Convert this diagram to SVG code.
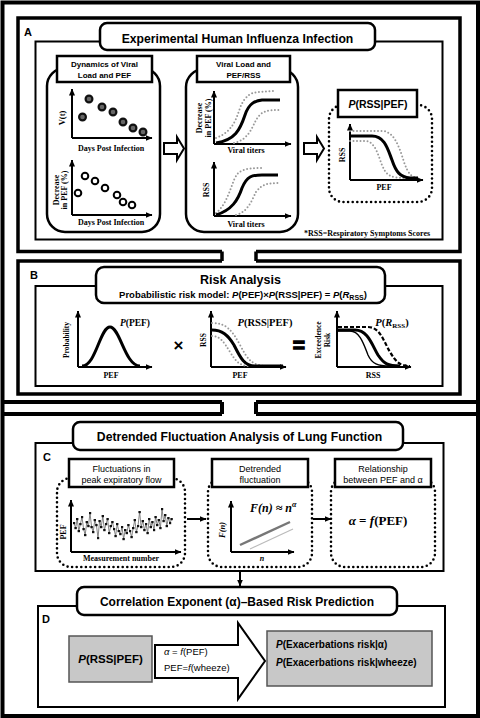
<svg xmlns="http://www.w3.org/2000/svg" width="480" height="718" viewBox="0 0 480 718">
<defs>
<marker id="ah" markerWidth="7" markerHeight="6" refX="6.5" refY="3" orient="auto" markerUnits="userSpaceOnUse"><path d="M0,0 L7,3 L0,6 z" fill="#000"/></marker>
<marker id="pt" markerWidth="3" markerHeight="3" refX="1.5" refY="1.5" markerUnits="userSpaceOnUse"><rect x="0.3" y="0.3" width="2.4" height="2.4" fill="#111"/></marker>
</defs>
<style>
.fr{fill:none;stroke:#000;stroke-width:4}
.sf{fill:none;stroke:#000;stroke-width:3.5}
.ib{fill:#fff;stroke:#000;stroke-width:2}
.pill{fill:#fff;stroke:#000;stroke-width:2.5}
.lb{fill:#fff;stroke:#000;stroke-width:2.5}
.pn{fill:#fff;stroke:#000;stroke-width:2.5}
.dp{fill:#fff;stroke:#000;stroke-width:2.6;stroke-dasharray:0 4.6;stroke-linecap:round}
.ax{fill:none;stroke:#000;stroke-width:2;marker-end:url(#ah)}
.cb{fill:none;stroke:#000;stroke-width:3}
.cg{fill:none;stroke:#999;stroke-width:2;stroke-dasharray:0 3.5;stroke-linecap:round}
.cd{fill:none;stroke:#000;stroke-width:2.2;stroke-dasharray:4 2}
.dot{fill:#666;stroke:#111;stroke-width:2.2}
.odot{fill:#fff;stroke:#000;stroke-width:2}
.ha{fill:#fff;stroke:#000;stroke-width:2}
.gb{fill:#c8c8c8;stroke:#555;stroke-width:1.5}
.con{fill:none;stroke:#000;stroke-width:2}
.t{font-family:"Liberation Sans",Arial,sans-serif;font-weight:bold;fill:#000}
.n{font-family:"Liberation Sans",Arial,sans-serif;font-weight:normal;fill:#000}
.s{font-family:"Liberation Serif","Times New Roman",serif;font-weight:bold;fill:#000}
.c{text-anchor:middle}
.i{font-style:italic}
</style>

<g id="frames">
<rect class="fr" x="2.5" y="2.5" width="475.5" height="713.5"/>
<path class="fr" d="M222,402 H2 M256,402 H478 M222,414 H2 M256,414 H478 M222,402 V414 M256,402 V414"/>
<path class="sf" d="M222,251.5 H18 V18 H460 V251.5 H256 M222,251.5 V261 M256,251.5 V261 M222,261 H18 V394 H460 V261 H256"/>
</g>

<g id="sectionA">
<rect class="ib" x="35.5" y="41.5" width="407" height="198"/>
<rect class="pill" x="100" y="23" width="275" height="27" rx="7"/>
<text class="t c" x="237.5" y="42.5" font-size="12.2">Experimental Human Influenza Infection</text>
<text class="t" x="24" y="36" font-size="11">A</text>
</g>

<g id="panelA1">
<rect class="pn" x="47" y="68" width="113" height="164" rx="18"/>
<rect class="lb" x="57" y="56" width="95" height="26"/>
<text class="t c" x="104.5" y="67" font-size="8">Dynamics of Viral</text>
<text class="t c" x="104.5" y="77.5" font-size="8">Load and PEF</text>
<path class="ax" d="M72,138 V89"/>
<path class="ax" d="M72,138 H152"/>
<text class="s c" transform="translate(64.5,118) rotate(-90)" font-size="8.5">V(t)</text>
<circle class="dot" cx="82.5" cy="117" r="3.4"/>
<circle class="dot" cx="89" cy="99" r="3.4"/>
<circle class="dot" cx="102" cy="107" r="3.4"/>
<circle class="dot" cx="113" cy="112" r="3.4"/>
<circle class="dot" cx="123" cy="122" r="3.4"/>
<circle class="dot" cx="133" cy="128" r="3.4"/>
<circle class="dot" cx="143" cy="132" r="3.4"/>
<text class="s c" x="111" y="151" font-size="8">Days Post Infection</text>
<path class="ax" d="M72,215 V160"/>
<path class="ax" d="M72,215 H152"/>
<text class="s c" transform="translate(58.5,190) rotate(-90)" font-size="8">Decrease</text>
<text class="s c" transform="translate(67,190) rotate(-90)" font-size="8">in PEF (%)</text>
<circle class="odot" cx="78" cy="193" r="3.3"/>
<circle class="odot" cx="85" cy="176" r="3.3"/>
<circle class="odot" cx="95" cy="181" r="3.3"/>
<circle class="odot" cx="105" cy="188" r="3.3"/>
<circle class="odot" cx="117" cy="195" r="3.3"/>
<circle class="odot" cx="123" cy="202" r="3.3"/>
<circle class="odot" cx="132" cy="205" r="3.3"/>
<text class="s c" x="111" y="225" font-size="8">Days Post Infection</text>
</g>

<g id="panelA2">
<rect class="pn" x="186" y="69" width="112" height="163" rx="18"/>
<rect class="lb" x="197" y="56" width="93" height="26"/>
<text class="t c" x="243.5" y="67" font-size="8">Viral Load and</text>
<text class="t c" x="243.5" y="77.5" font-size="8">PEF/RSS</text>
<path class="ax" d="M214,144 V91"/>
<path class="ax" d="M214,144 H291"/>
<text class="s c" transform="translate(202,118) rotate(-90)" font-size="8">Decrease</text>
<text class="s c" transform="translate(210.5,118) rotate(-90)" font-size="8">in PEF (%)</text>
<path class="cg" d="M216,138 C232,132 236,120 240,108 C245,95 252,92 260,92 L274,91"/>
<path class="cg" d="M234,143 C248,140 252,128 256,120 C262,110 268,110 282,110"/>
<path class="cb" d="M216,143 C235,140 240,130 245,115 C249,103 255,101 262,100 L280,100"/>
<text class="s c" x="246" y="153" font-size="8">Viral titers</text>
<path class="ax" d="M214,216 V162"/>
<path class="ax" d="M214,216 H291"/>
<text class="s c" transform="translate(208.5,190) rotate(-90)" font-size="8">RSS</text>
<path class="cg" d="M216,213 C226,205 230,190 234,180 C238,170 244,168 262,168"/>
<path class="cg" d="M236,215 C248,212 252,200 256,192 C262,184 268,183 280,183"/>
<path class="cb" d="M216,215 C232,210 238,200 242,188 C247,176 252,175 262,175 L278,175"/>
<text class="s c" x="246" y="227" font-size="8">Viral titers</text>
</g>

<g id="panelA3">
<rect class="dp" x="329" y="105" width="103" height="97" rx="14"/>
<rect class="lb" x="338" y="90" width="79" height="27"/>
<text class="t c" x="378" y="108" font-size="10.5"><tspan class="i">P</tspan>(RSS|PEF)</text>
<path class="ax" d="M350,180 V124"/>
<path class="ax" d="M350,180 H423"/>
<text class="s c" transform="translate(345,155) rotate(-90)" font-size="8">RSS</text>
<path class="cg" d="M350,131 H382 C395,131 400,150 404,162 C408,174 412,178 420,178"/>
<path class="cg" d="M350,141 H365 C375,141 378,155 382,165 C386,175 390,178 405,178"/>
<path class="cb" d="M350,136 H372 C385,136 388,150 392,160 C396,172 400,177 410,178 H418"/>
<text class="s c" x="384" y="190" font-size="8">PEF</text>
<text class="s" x="304" y="236" font-size="8">*RSS=Respiratory Symptoms Scores</text>
</g>

<g id="sectionB">
<rect class="ib" x="35.5" y="286" width="407" height="100"/>
<rect class="pill" x="96" y="267" width="289" height="36" rx="8"/>
<text class="t c" x="240.5" y="284" font-size="12.5">Risk Analysis</text>
<text class="t c" x="243" y="298" font-size="9.5">Probabilistic risk model: <tspan class="i">P</tspan>(PEF)×<tspan class="i">P</tspan>(RSS|PEF) = <tspan class="i">P</tspan>(<tspan class="i">R</tspan><tspan font-size="7" dy="2">RSS</tspan><tspan dy="-2">)</tspan></text>
<text class="t" x="30" y="279" font-size="11">B</text>
</g>

<g id="plotB1">
<path class="ax" d="M78,367 V311"/>
<path class="ax" d="M78,367 H152"/>
<text class="s c" transform="translate(69,340) rotate(-90)" font-size="7.5">Probability</text>
<path class="cb" d="M82,366 C96,366 100,327 110,327 C120,327 125,366 140,366"/>
<text class="s c" x="135" y="326" font-size="9.5"><tspan class="i">P</tspan>(PEF)</text>
<text class="s c" x="111" y="378" font-size="8">PEF</text>
<text class="t c" x="178.5" y="351" font-size="17">×</text>
</g>

<g id="plotB2">
<path class="ax" d="M211,367 V311"/>
<path class="ax" d="M211,367 H286"/>
<text class="s c" transform="translate(206,340) rotate(-90)" font-size="7.5">RSS</text>
<path class="cg" d="M212,323 C226,323 232,330 240,345 C248,360 252,366 268,366"/>
<path class="cg" d="M212,336 C220,336 224,342 230,352 C236,362 240,366 250,366"/>
<path class="cb" d="M212,330 C222,330 228,335 234,345 C240,357 244,366 255,366 H283"/>
<text class="s c" x="265" y="326" font-size="10.5"><tspan class="i">P</tspan>(RSS|PEF)</text>
<text class="s c" x="240" y="378" font-size="8">PEF</text>
<text class="t c" x="299" y="352" font-size="21" stroke="#000" stroke-width="1.3">=</text>
</g>

<g id="plotB3">
<path class="ax" d="M337,367 V311"/>
<path class="ax" d="M337,367 H411"/>
<text class="s c" transform="translate(321,340) rotate(-90)" font-size="7.5">Exceedence</text>
<text class="s c" transform="translate(330,340) rotate(-90)" font-size="7.5">Risk</text>
<path class="cd" d="M338,327 H368 C380,327 384,342 390,352 C396,362 400,366 410,366"/>
<path fill="none" stroke="#000" stroke-width="1.4" d="M338,331 H350 C360,331 364,345 368,355 C372,364 378,366 390,366"/>
<path class="cb" d="M338,330 H355 C368,330 372,345 378,355 C384,364 388,366 400,366"/>
<text class="s c" x="392" y="326" font-size="10.5"><tspan class="i">P</tspan>(<tspan class="i">R</tspan><tspan font-size="7" dy="2">RSS</tspan><tspan dy="-2">)</tspan></text>
<text class="s c" x="373" y="378" font-size="8">RSS</text>
</g>

<g id="sectionC">
<rect class="ib" x="35.5" y="443" width="408" height="128"/>
<rect class="pill" x="73" y="422" width="330" height="28" rx="7"/>
<text class="t c" x="239.5" y="441" font-size="12.2">Detrended Fluctuation Analysis of Lung Function</text>
<text class="t" x="43" y="461" font-size="11">C</text>
</g>

<g id="panelC1">
<rect class="dp" x="57" y="478" width="128" height="89" rx="14"/>
<rect class="lb" x="69" y="459" width="105" height="28"/>
<text class="n c" x="121.5" y="472" font-size="9">Fluctuations in</text>
<text class="n c" x="121.5" y="482.5" font-size="9">peak expiratory flow</text>
<path class="ax" d="M71,552 V500"/>
<path class="ax" d="M71,552 H181"/>
<text class="s c" transform="translate(65.5,532) rotate(-90)" font-size="8">PEF</text>
<polyline fill="none" stroke="#777" stroke-width="0.9" marker-start="url(#pt)" marker-mid="url(#pt)" marker-end="url(#pt)" points="74,523 75.6,528 77.2,519 78.8,531 80.4,524 82,517 83.6,529 85.2,535 86.8,522 88.4,526 90,513 91.6,527 93.2,532 94.8,520 96.4,525 98,538 99.6,521 101.2,527 102.8,516 104.4,530 106,524 107.6,519 109.2,533 110.8,526 112.4,522 114,529 115.6,536 117.2,524 118.8,531 120.4,534 122,527 123.6,539 125.2,530 126.8,533 128.4,525 130,531 131.6,537 133.2,528 134.8,520 136.4,532 138,526 139.6,512 141.2,527 142.8,521 144.4,530 146,524 147.6,533 149.2,519 150.8,527 152.4,522 154,530 155.6,517 157.2,525 158.8,520 160.4,528 162,509 163.6,521 165.2,515 166.8,526 168.4,518 170,523 171.6,519"/>
<text class="s c" x="121" y="561" font-size="8">Measurement number</text>
</g>

<g id="panelC2">
<rect class="dp" x="208" y="478" width="104" height="89" rx="14"/>
<rect class="lb" x="212" y="459" width="96" height="28"/>
<text class="n c" x="260" y="472" font-size="9">Detrended</text>
<text class="n c" x="260" y="482.5" font-size="9">fluctuation</text>
<path class="ax" d="M231,552 V501"/>
<path class="ax" d="M231,552 H294"/>
<text class="s c i" transform="translate(225,530) rotate(-90)" font-size="8.5">F(n)</text>
<line x1="240" y1="545" x2="290" y2="522" stroke="#777" stroke-width="2.4"/>
<line x1="250" y1="549" x2="293" y2="529" stroke="#bbb" stroke-width="1.2"/>
<text class="s c i" x="262" y="561" font-size="8">n</text>
<text class="s i" x="250" y="512" font-size="12">F(n) ≈ n<tspan font-size="8" dy="-5">α</tspan></text>
</g>

<g id="panelC3">
<rect class="dp" x="331" y="478" width="104" height="89" rx="14"/>
<rect class="lb" x="335" y="459" width="96" height="28"/>
<text class="n c" x="383" y="472" font-size="9">Relationship</text>
<text class="n c" x="383" y="482.5" font-size="9">between PEF and α</text>
<text class="s c" x="378" y="525" font-size="13"><tspan class="i">α</tspan> = <tspan class="i">f</tspan>(PEF)</text>
</g>

<g id="sectionD">
<rect class="ib" x="38" y="606" width="407" height="101"/>
<rect class="pill" x="77" y="587" width="320" height="28" rx="7"/>
<text class="t c" x="237" y="606" font-size="12">Correlation Exponent (α)–Based Risk Prediction</text>
<text class="t" x="42" y="623" font-size="11">D</text>
</g>

<g id="boxD1">
<rect class="gb" x="69" y="636" width="83" height="46"/>
<text class="t c" x="110.5" y="663" font-size="11.5"><tspan class="i">P</tspan>(RSS|PEF)</text>
</g>

<g id="arrowD">
<polygon class="ha" points="155,645 238,645 238,623 265,661 238,699 238,678 155,678"/>
<text class="n" x="164" y="655" font-size="9.5"><tspan class="i">α</tspan> = <tspan class="i">f</tspan>(PEF)</text>
<text class="n" x="164" y="671" font-size="9.5">PEF=<tspan class="i">f</tspan>(wheeze)</text>
</g>

<g id="boxD2">
<rect class="gb" x="267" y="631" width="165" height="55"/>
<text class="t" x="276" y="648" font-size="10"><tspan class="i">P</tspan>(Exacerbations risk|α)</text>
<text class="t" x="276" y="666" font-size="10"><tspan class="i">P</tspan>(Exacerbations risk|wheeze)</text>
</g>

<g id="connectors">
<polygon class="ha" points="164,143 177,143 177,137 184,148.5 177,160 177,154 164,154"/>
<polygon class="ha" points="304,143 317,143 317,137 324,148.5 317,160 317,154 304,154"/>
<path class="con" d="M187,519 H206" marker-end="url(#ah)"/>
<path class="con" d="M313,519 H331" marker-end="url(#ah)"/>
<path class="con" d="M240,571 V586" marker-end="url(#ah)"/>
</g>
</svg>
